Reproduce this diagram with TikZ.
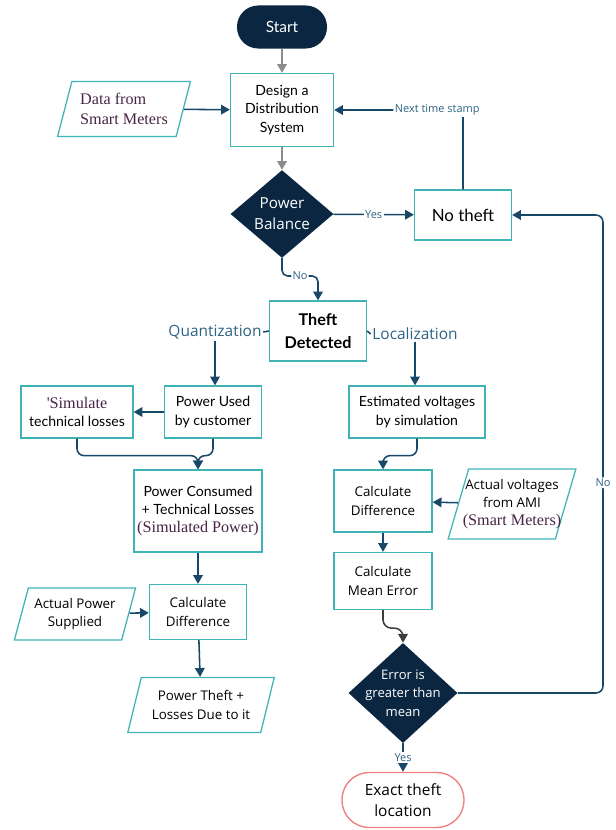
\documentclass[tikz,border=0pt]{standalone}
\usepackage{fontspec}
\setmainfont{Open Sans}
\newfontfamily\latofont{Lato}
\newfontfamily\serfont{Liberation Serif}
\usetikzlibrary{positioning}
\usetikzlibrary{shapes.geometric}
\usetikzlibrary{arrows.meta}

\definecolor{navy}{RGB}{11,38,64}
\definecolor{tealline}{RGB}{64,180,180}
\definecolor{flowblue}{RGB}{24,72,104}
\definecolor{labelblue}{RGB}{46,99,133}
\definecolor{serifred}{RGB}{72,36,70}
\definecolor{pinkline}{RGB}{236,130,130}
\definecolor{greyline}{RGB}{140,140,140}
\definecolor{darkline}{RGB}{60,60,60}

\newcommand{\sertext}[1]{{\serfont\color{serifred}\fontsize{11.5}{14}\selectfont #1}}

\begin{document}
\begin{tikzpicture}[x=0.025cm, y=-0.025cm, >={Triangle[length=2.2mm, width=2.4mm]},
  proc/.style={rectangle, draw=tealline, line width=0.9pt, fill=white, align=center, inner sep=1pt, font=\latofont\fontsize{10}{13}\selectfont},
  io/.style={trapezium, trapezium left angle=70, trapezium right angle=110, trapezium stretches=true, draw=tealline, line width=0.9pt, align=center, inner sep=1pt, font=\fontsize{9.5}{13}\selectfont},
  decision/.style={diamond, fill=navy, text=white, align=center, inner sep=0pt},
  term/.style={rectangle, align=center},
  flow/.style={->, draw=flowblue, line width=1.1pt},
  greyflow/.style={flow, draw=greyline},
  lbl/.style={fill=white, text=labelblue, inner sep=1pt, font=\fontsize{7.8}{9}\selectfont},
  branch/.style={text=labelblue, inner sep=1pt, font=\fontsize{11}{13}\selectfont}]
  \useasboundingbox (0,0) rectangle (616,830);

  % main column
  \node[term, fill=navy, text=white, minimum width=2.25cm, minimum height=1.075cm, rounded corners=5.3mm, font=\latofont\fontsize{11}{13}\selectfont] (Start) at (282,27) {Start};
  \node[proc, minimum width=2.575cm, minimum height=1.825cm] (Design) at (282,110) {Design a\\Distribution\\System};
  \node[io, minimum width=3.325cm, minimum height=1.375cm, align=left, font=\serfont\fontsize{11.5}{14}\selectfont, text=serifred] (Data) at (124,109) {Data from\\Smart Meters};
  \node[decision, minimum width=2.575cm, minimum height=1.8cm, font=\fontsize{10.8}{15}\selectfont] (Balance) at (282,214) {Power\\Balance};
  \node[proc, minimum width=2.425cm, minimum height=1.25cm, font=\latofont\fontsize{12}{14}\selectfont] (NoTheft) at (463,215) {No theft};
  \node[proc, minimum width=2.425cm, minimum height=1.5cm, font=\latofont\bfseries\fontsize{11.5}{16}\selectfont] (Detected) at (318,331) {Theft\\Detected};
  \node[branch] (Quant) at (215,332) {Quantization};
  \node[branch] (Local) at (415,334) {Localization};

  % quantization side
  \node[proc, minimum width=2.425cm, minimum height=1.3cm] (Used) at (213,412) {Power Used\\by customer};
  \node[proc, minimum width=2.8cm, minimum height=1.3cm] (SimLoss) at (77,412) {\sertext{'Simulate}\\technical losses};
  \node[proc, minimum width=3.2cm, minimum height=2.05cm] (Consumed) at (198,511) {Power Consumed\\+ Technical Losses\\\sertext{(Simulated Power)}};
  \node[io, minimum width=3.05cm, minimum height=1.3cm] (Supplied) at (75,614) {Actual Power\\Supplied};
  \node[proc, font=\fontsize{9.5}{13}\selectfont, minimum width=2.425cm, minimum height=1.375cm] (DiffL) at (198,612) {Calculate\\Difference};
  \node[io, minimum width=3.675cm, minimum height=1.375cm] (Theft) at (201,705) {Power Theft +\\Losses Due to it};

  % localization side
  \node[proc, minimum width=3.4cm, minimum height=1.3cm] (Est) at (417,412) {Estimated voltages\\by simulation};
  \node[proc, font=\fontsize{9.5}{13}\selectfont, minimum width=2.45cm, minimum height=1.55cm] (DiffR) at (383,501) {Calculate\\Difference};
  \node[io, minimum width=3.2cm, minimum height=1.75cm, inner xsep=-6pt] (AMI) at (512,504) {Actual voltages\\from AMI\\\sertext{(Smart Meters)}};
  \node[proc, font=\fontsize{9.5}{13}\selectfont, minimum width=2.45cm, minimum height=1.425cm] (Mean) at (383,581) {Calculate\\Mean Error};
  \node[decision, minimum width=2.725cm, minimum height=2.125cm, inner sep=-4pt, font=\fontsize{9.3}{13.3}\selectfont] (Err) at (403,693) {Error is\\greater than\\mean};
  \node[term, draw=pinkline, line width=1pt, minimum width=3.05cm, minimum height=1.375cm, rounded corners=6.8mm, font=\fontsize{11}{15}\selectfont] (Exact) at (403,800) {Exact theft\\location};

  \coordinate (NoBend) at (300,276);
  \coordinate (RSide) at (603,693);

  \draw[greyflow] (Start) -- (Design);
  \draw[greyflow] (Design) -- (Balance);

  \path
  (Data) edge[flow] (Design)
  (Balance) edge[flow] node[lbl] (lYes1) {Yes} (NoTheft)
  (Used) edge[flow] (SimLoss)
  (Consumed) edge[flow] (DiffL)
  (Supplied) edge[flow] (DiffL)
  (DiffL) edge[flow] (Theft)
  (AMI) edge[flow] (DiffR)
  (DiffR) edge[flow] (Mean)
  (Err) edge[flow] node[lbl] (lYes2) {Yes} (Exact);

  \draw[flow, rounded corners=4pt] (NoTheft.north) |- node[lbl, pos=0.6] (lNext) {Next time stamp} (Design.east);
  \draw[flow, rounded corners=4pt] (Balance.south) |- (NoBend) node[lbl] (lNo1) {No} -| (Detected.north);
  \draw[flow, -] (Detected.west) -- (Quant.east);
  \draw[flow, -] (Detected.east) -- (Local.west);
  \draw[flow] (Quant.south) -- (Quant.south |- Used.north);
  \draw[flow] (Local.south) -- (Local.south |- Est.north);
  \draw[flow, rounded corners=5pt] (SimLoss.south) -- ++(0,17) -| (Consumed.north);
  \draw[flow, rounded corners=5pt] (Used.south) -- ++(0,17) -| (Consumed.north);
  \draw[flow, rounded corners=5pt] (Est.south) -- ++(0,17) -| (DiffR.north);
  \draw[flow, draw=darkline, rounded corners=6pt] (Mean.south) -- ++(0,18) -| (Err.north);
  \draw[flow, rounded corners=5pt] (Err.east) -- (RSide) |- node[lbl, pos=0.22] (lNo2) {No} (NoTheft.east);
\end{tikzpicture}
\end{document}
